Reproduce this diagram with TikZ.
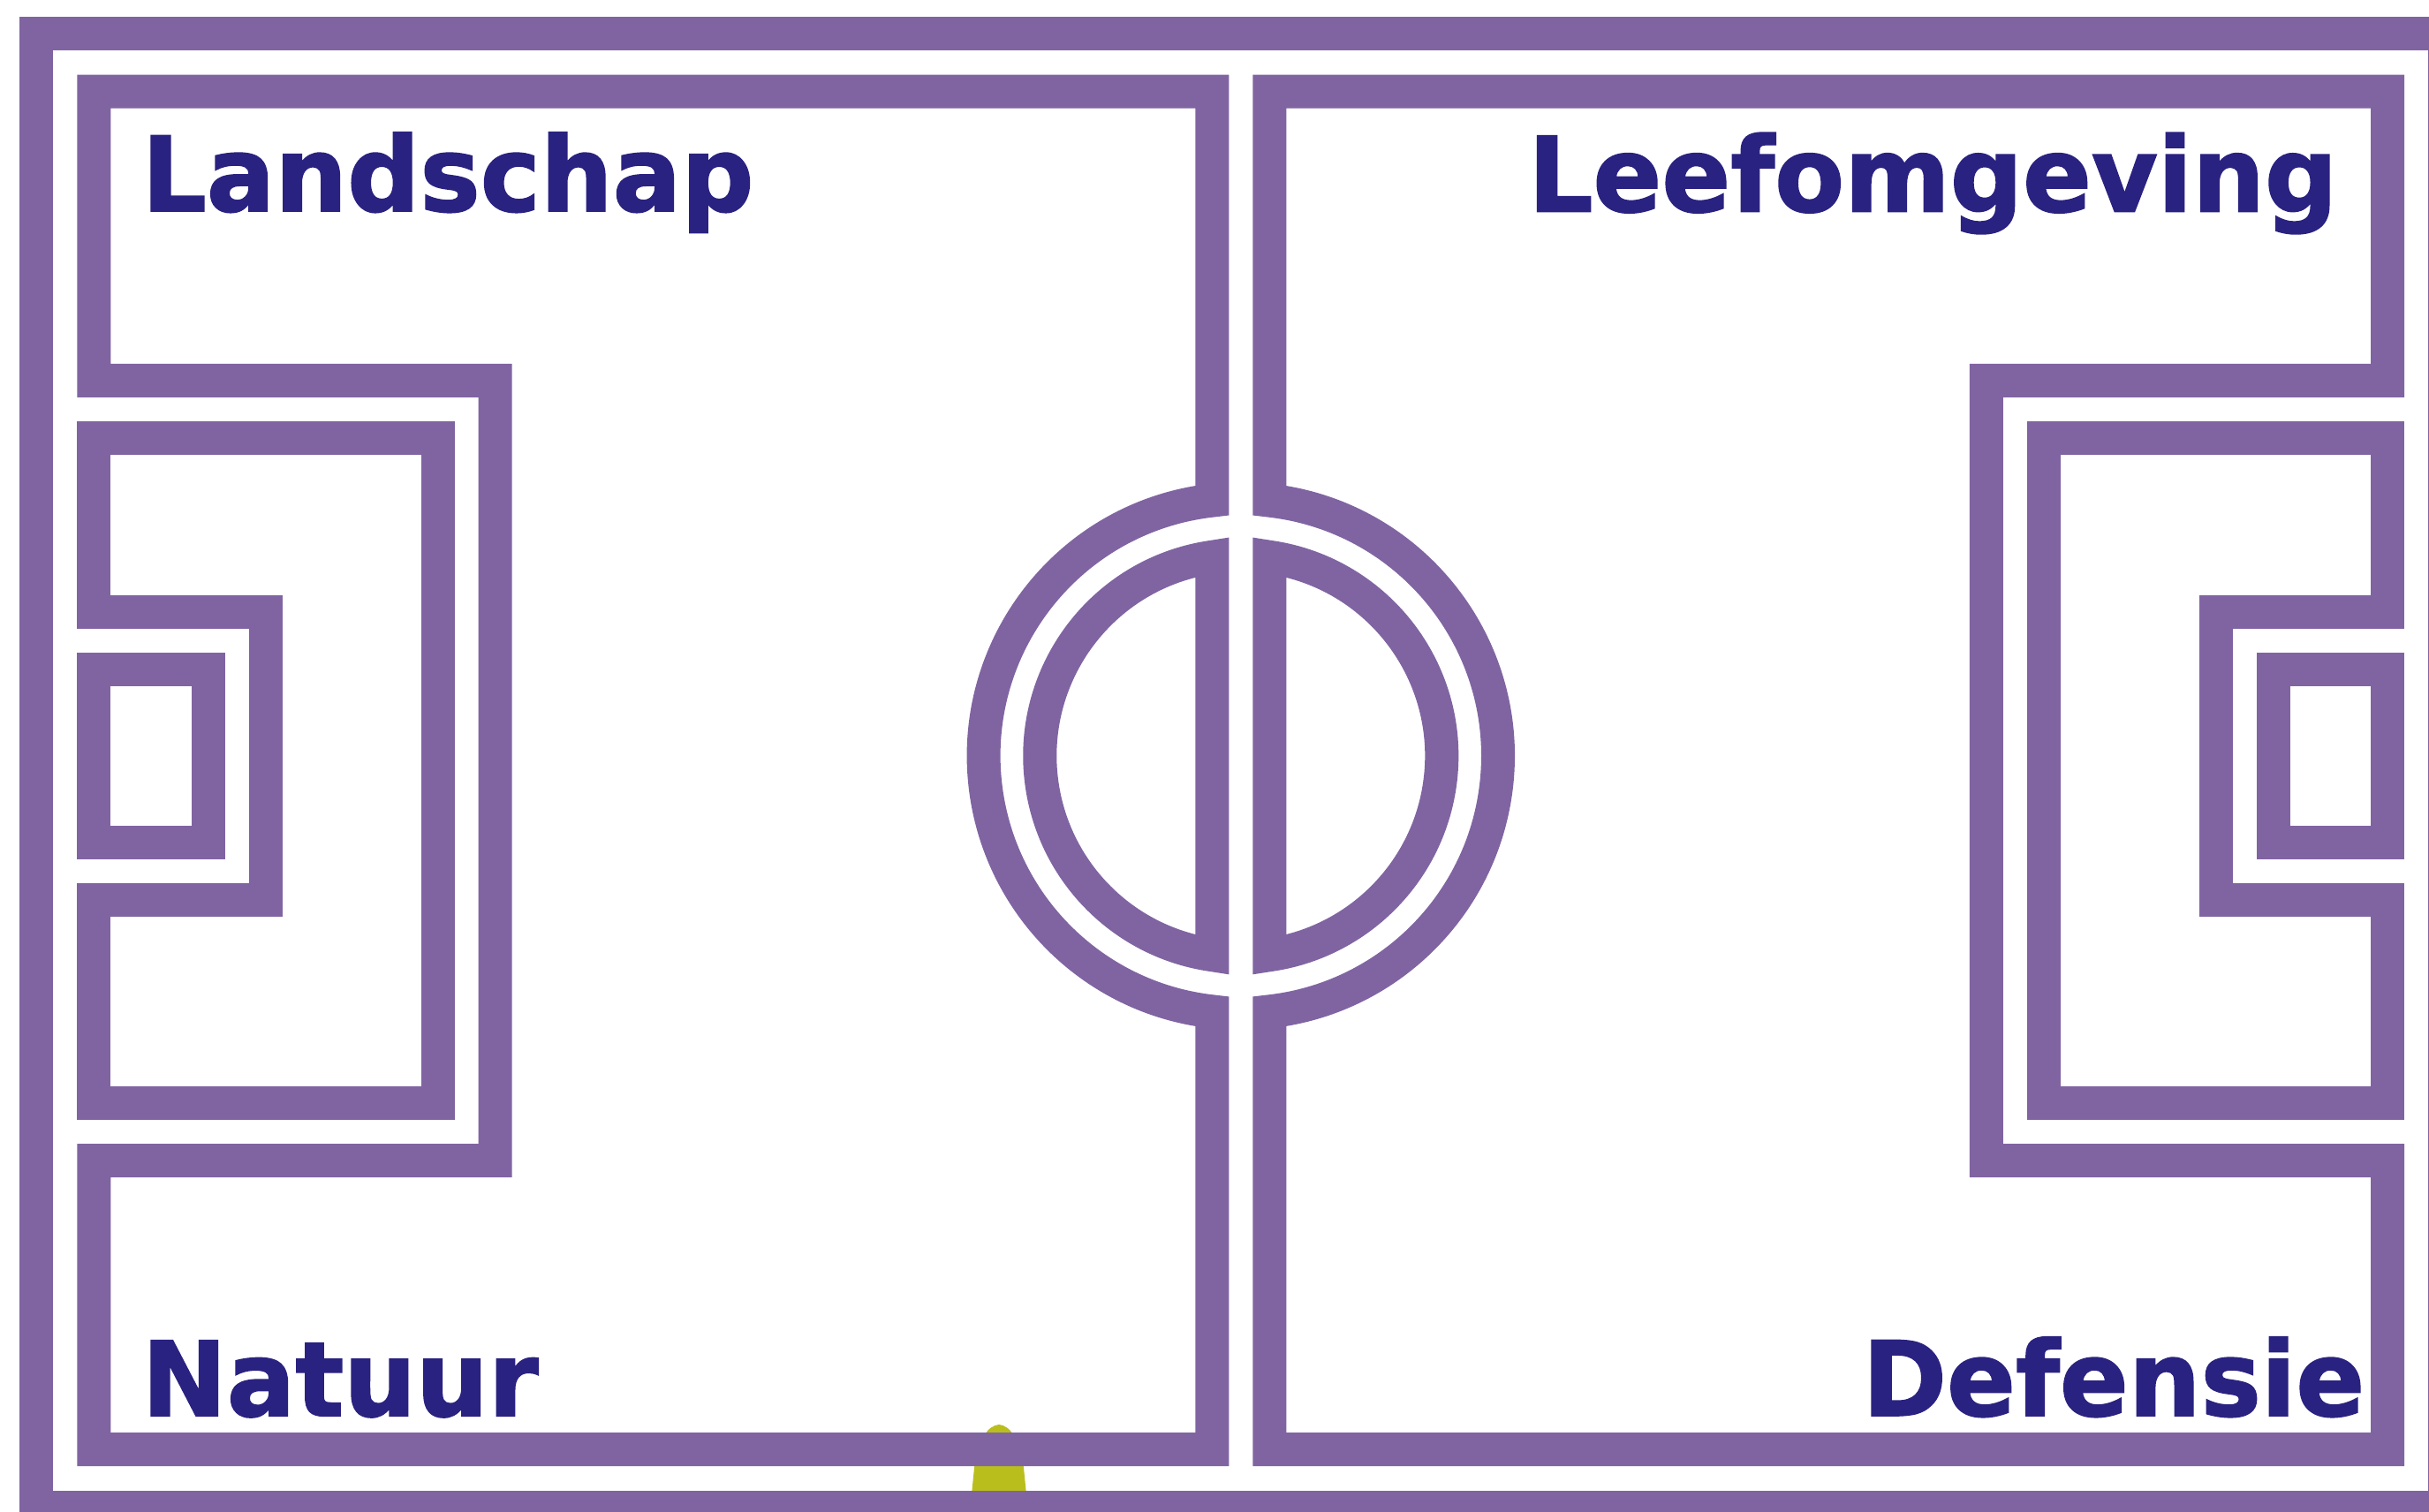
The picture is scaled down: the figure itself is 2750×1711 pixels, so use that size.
\documentclass[tikz,border=0pt]{standalone}
\usepackage{fontspec}
\newfontfamily\lblfont{DejaVu Sans Bold}[FakeStretch=0.978, FakeBold=1.5]
\definecolor{pur}{HTML}{8064A2}
\definecolor{ink}{HTML}{2A2280}
\definecolor{ylw}{HTML}{B9BE1D}
\tikzset{
  band/.style={draw=pur, line width=0.38cm, line join=miter, miter limit=10},
  lbl/.style={text=ink, inner sep=0pt, font=\lblfont\fontsize{33.4pt}{40pt}\selectfont}
}
\newcommand\halfpitch{%
  % half-field frame with penalty area; the middle bar bulges out as the centre ring
  \draw[band] (106.4,430.9) -- (106.4,103.7) -- (1372.3,103.7) -- (1372.3,566.6)
     arc[start angle=263.59, end angle=96.41, radius=291.2]
     -- (1372.3,1641) -- (106.4,1641) -- (106.4,1314) -- (560.7,1314)
     -- (560.7,430.9) -- cycle;
  % inner area with goal area
  \draw[band] (106.4,692.6) -- (106.4,496.2) -- (495.8,496.2) -- (495.8,1248.5)
     -- (106.4,1248.5) -- (106.4,1019.4) -- (301,1019.4) -- (301,692.6) -- cycle;
  % goal
  \draw[band] (106.4,757.9) rectangle (235.9,954.2);
  % half disc
  \draw[band] (1372.3,630.8) arc[start angle=261.79, end angle=98.21, radius=227.5] -- cycle;
}
\begin{document}
\begin{tikzpicture}[x=0.01cm, y=-0.01cm]
  \useasboundingbox (0,0) rectangle (2750,1711);
  \fill[white] (0,0) rectangle (2750,1711);
  \clip (0,0) rectangle (2750,1711);
  % yellow object partly hidden behind the bands
  \fill[ylw] (1100,1692) -- (1103,1662) .. controls (1108,1628) and (1119,1614) .. (1131,1613)
     .. controls (1143,1614) and (1154,1628) .. (1159,1662) -- (1162,1692) -- cycle;
  % outer frame
  \draw[band] (41,38) rectangle (2768,1707);
  % left half
  \halfpitch
  % right half (mirror)
  \begin{scope}[shift={(2809.6,0)}, xscale=-1]
    \halfpitch
  \end{scope}
  % labels
  \node[lbl, anchor=base west] (landschap) at (160,239) {Landschap};
  \node[lbl, anchor=base east] (leefomgeving) at (2647,239.5) {Leefomgeving};
  \node[lbl, anchor=base west] (natuur) at (160,1603.3) {Natuur};
  \node[lbl, anchor=base east] (defensie) at (2678,1603) {Defensie};
\end{tikzpicture}
\end{document}
